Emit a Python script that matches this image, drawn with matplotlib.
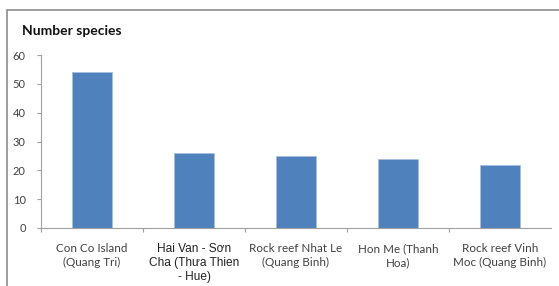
import matplotlib
matplotlib.use('Agg')
import matplotlib.pyplot as plt
from matplotlib.patches import Rectangle

categories = ['Con Co Island\n(Quang Tri)',
              'Hai Van - Sơn\nCha (Thưa Thien\n- Hue)',
              'Rock reef Nhat Le\n(Quang Binh)',
              'Hon Me (Thanh\nHoa)',
              'Rock reef Vinh\nMoc (Quang Binh)']
species = [54, 26, 25, 24, 22]
yticks = [0, 10, 20, 30, 40, 50, 60]

fig = plt.figure(figsize=(5.59, 2.86), dpi=100)
ax = fig.add_axes([41 / 559, 1 - 228 / 286, 510 / 559, 173 / 286])

# outer chart frame (cropped at right and bottom)
fig.patches.append(Rectangle((7 / 559, -0.05), 1.1, 1 - 9.5 / 286 + 0.05,
                             transform=fig.transFigure, fill=False,
                             edgecolor='#8c8c8c', linewidth=1.2))

x = list(range(len(species)))
ax.bar(x, species, width=0.39, color='#4f81bd', edgecolor='#a6c0e0', linewidth=0.6)

ax.set_xlim(-0.5, len(species) - 0.5)
ax.set_ylim(0, 60)
ax.set_yticks(yticks)
ax.set_yticklabels([str(t) for t in yticks], fontsize=8, color='#404040', family='Lato')

ax.set_xticks([i + 0.5 for i in range(len(species) - 1)] + [-0.5])
ax.set_xticklabels([])
ax.tick_params(axis='x', length=3, color='#a0a0a0', width=0.8)
ax.tick_params(axis='y', length=3, color='#a0a0a0', width=0.8, pad=8)

for i, lab in enumerate(categories):
    if i == 1:
        ax.text(i, -5.3, lab, ha='center', va='top', fontsize=8.6, color='#222222',
                family='Liberation Sans', linespacing=1.2)
    else:
        ax.text(i, -5.3, lab, ha='center', va='top', fontsize=8.4, color='#404040',
                family='Lato', linespacing=1.3)

for side in ['top', 'right']:
    ax.spines[side].set_visible(False)
for side in ['left', 'bottom']:
    ax.spines[side].set_color('#a0a0a0')
    ax.spines[side].set_linewidth(0.8)

fig.text(22 / 559, 1 - 31 / 286, 'Number species', fontsize=10, fontweight='bold',
         family='Lato', va='center', ha='left', color='#111111')

fig.savefig('out.png', dpi=100)
